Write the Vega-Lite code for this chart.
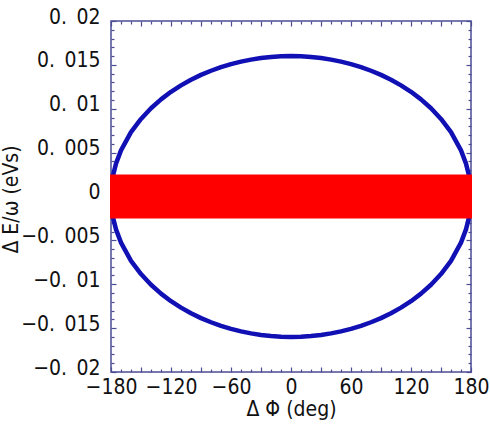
{
  "$schema": "https://vega.github.io/schema/vega-lite/v6.json",
  "width": 360,
  "height": 351,
  "autosize": "none",
  "padding": {"left": 111, "top": 21, "right": 19, "bottom": 52},
  "background": "white",
  "config": {
    "view": {"stroke": "#4c4c94", "strokeWidth": 1.5},
    "axis": {"grid": false, "domain": false, "tickColor": "#4c4c94", "tickWidth": 1.2, "labelFont": "DejaVu Sans Condensed, Noto Sans CJK JP", "titleFont": "DejaVu Sans Condensed, Noto Sans CJK JP", "labelColor": "#111", "titleColor": "#111", "labelFontSize": 21, "titleFontSize": 21, "titleFontWeight": "normal"}
  },
  "datasets": {
    "ellipse": [
      {"phi": -180, "dE": 0, "o": 0},
      {"phi": -178, "dE": 0.00238, "o": 1},
      {"phi": -175, "dE": 0.00375, "o": 2},
      {"phi": -170, "dE": 0.00526, "o": 3},
      {"phi": -160, "dE": 0.00733, "o": 4},
      {"phi": -150, "dE": 0.00884, "o": 5},
      {"phi": -140, "dE": 0.01006, "o": 6},
      {"phi": -130, "dE": 0.01107, "o": 7},
      {"phi": -120, "dE": 0.01193, "o": 8},
      {"phi": -110, "dE": 0.01266, "o": 9},
      {"phi": -100, "dE": 0.0133, "o": 10},
      {"phi": -90, "dE": 0.01386, "o": 11},
      {"phi": -80, "dE": 0.01433, "o": 12},
      {"phi": -70, "dE": 0.01474, "o": 13},
      {"phi": -60, "dE": 0.01508, "o": 14},
      {"phi": -50, "dE": 0.01537, "o": 15},
      {"phi": -40, "dE": 0.0156, "o": 16},
      {"phi": -30, "dE": 0.01578, "o": 17},
      {"phi": -20, "dE": 0.0159, "o": 18},
      {"phi": -10, "dE": 0.01598, "o": 19},
      {"phi": 0, "dE": 0.016, "o": 20},
      {"phi": 10, "dE": 0.01598, "o": 21},
      {"phi": 20, "dE": 0.0159, "o": 22},
      {"phi": 30, "dE": 0.01578, "o": 23},
      {"phi": 40, "dE": 0.0156, "o": 24},
      {"phi": 50, "dE": 0.01537, "o": 25},
      {"phi": 60, "dE": 0.01508, "o": 26},
      {"phi": 70, "dE": 0.01474, "o": 27},
      {"phi": 80, "dE": 0.01433, "o": 28},
      {"phi": 90, "dE": 0.01386, "o": 29},
      {"phi": 100, "dE": 0.0133, "o": 30},
      {"phi": 110, "dE": 0.01266, "o": 31},
      {"phi": 120, "dE": 0.01193, "o": 32},
      {"phi": 130, "dE": 0.01107, "o": 33},
      {"phi": 140, "dE": 0.01006, "o": 34},
      {"phi": 150, "dE": 0.00884, "o": 35},
      {"phi": 160, "dE": 0.00733, "o": 36},
      {"phi": 170, "dE": 0.00526, "o": 37},
      {"phi": 175, "dE": 0.00375, "o": 38},
      {"phi": 178, "dE": 0.00238, "o": 39},
      {"phi": 180, "dE": 0, "o": 40},
      {"phi": 178, "dE": -0.00238, "o": 41},
      {"phi": 175, "dE": -0.00375, "o": 42},
      {"phi": 170, "dE": -0.00526, "o": 43},
      {"phi": 160, "dE": -0.00733, "o": 44},
      {"phi": 150, "dE": -0.00884, "o": 45},
      {"phi": 140, "dE": -0.01006, "o": 46},
      {"phi": 130, "dE": -0.01107, "o": 47},
      {"phi": 120, "dE": -0.01193, "o": 48},
      {"phi": 110, "dE": -0.01266, "o": 49},
      {"phi": 100, "dE": -0.0133, "o": 50},
      {"phi": 90, "dE": -0.01386, "o": 51},
      {"phi": 80, "dE": -0.01433, "o": 52},
      {"phi": 70, "dE": -0.01474, "o": 53},
      {"phi": 60, "dE": -0.01508, "o": 54},
      {"phi": 50, "dE": -0.01537, "o": 55},
      {"phi": 40, "dE": -0.0156, "o": 56},
      {"phi": 30, "dE": -0.01578, "o": 57},
      {"phi": 20, "dE": -0.0159, "o": 58},
      {"phi": 10, "dE": -0.01598, "o": 59},
      {"phi": 0, "dE": -0.016, "o": 60},
      {"phi": -10, "dE": -0.01598, "o": 61},
      {"phi": -20, "dE": -0.0159, "o": 62},
      {"phi": -30, "dE": -0.01578, "o": 63},
      {"phi": -40, "dE": -0.0156, "o": 64},
      {"phi": -50, "dE": -0.01537, "o": 65},
      {"phi": -60, "dE": -0.01508, "o": 66},
      {"phi": -70, "dE": -0.01474, "o": 67},
      {"phi": -80, "dE": -0.01433, "o": 68},
      {"phi": -90, "dE": -0.01386, "o": 69},
      {"phi": -100, "dE": -0.0133, "o": 70},
      {"phi": -110, "dE": -0.01266, "o": 71},
      {"phi": -120, "dE": -0.01193, "o": 72},
      {"phi": -130, "dE": -0.01107, "o": 73},
      {"phi": -140, "dE": -0.01006, "o": 74},
      {"phi": -150, "dE": -0.00884, "o": 75},
      {"phi": -160, "dE": -0.00733, "o": 76},
      {"phi": -170, "dE": -0.00526, "o": 77},
      {"phi": -175, "dE": -0.00375, "o": 78},
      {"phi": -178, "dE": -0.00238, "o": 79},
      {"phi": -180, "dE": 0, "o": 80}
    ],
    "band": [
      {"phi0": -181, "phi1": 181, "e0": -0.0025, "e1": 0.0025}
    ]
  },
  "layer": [
    {
      "data": {"name": "ellipse"},
      "mark": {"type": "line", "color": "#1010b4", "strokeWidth": 4.5, "strokeCap": "round", "strokeJoin": "round", "clip": true},
      "encoding": {
        "x": {"field": "phi", "type": "quantitative", "scale": {"domain": [-180, 180], "nice": false, "zero": false},
          "axis": {"orient": "bottom", "values": [-180, -150, -120, -90, -60, -30, 0, 30, 60, 90, 120, 150, 180], "tickSize": -5, "labelPadding": 9, "labelExpr": "datum.value % 60 == 0 ? replace(format(datum.value, 'd'), '-', '\u2212') : ''", "labelFlush": false, "labelOverlap": false, "title": "\u0394 \u03a6 (deg)", "titleY": 43, "titleBaseline": "alphabetic"}},
        "y": {"field": "dE", "type": "quantitative", "scale": {"domain": [-0.02, 0.02], "nice": false, "zero": false},
          "axis": {"orient": "left", "values": [-0.02, -0.015, -0.01, -0.005, 0, 0.005, 0.01, 0.015, 0.02], "tickSize": -5, "labelPadding": 16, "labelOffset": -4, "labelExpr": "datum.value == 0 ? '0' : replace(replace(format(datum.value, '.3~f'), '.', '.\u2002'), '-', '\u2212')", "labelFlush": false, "labelOverlap": false, "title": "\u0394 E/\u03c9 (eVs)", "titleX": -90, "titleY": 178}},
        "order": {"field": "o", "type": "quantitative"}
      }
    },
    {
      "data": {"name": "band"},
      "mark": {"type": "rect", "color": "#ff0000"},
      "encoding": {
        "x": {"field": "phi0", "type": "quantitative", "scale": {"domain": [-180, 180], "nice": false, "zero": false},
          "axis": {"orient": "bottom", "values": [-170, -160, -140, -130, -110, -100, -80, -70, -50, -40, -20, -10, 10, 20, 40, 50, 70, 80, 100, 110, 130, 140, 160, 170], "tickSize": -3, "labels": false, "title": null}},
        "x2": {"field": "phi1"},
        "y": {"field": "e0", "type": "quantitative", "scale": {"domain": [-0.02, 0.02], "nice": false, "zero": false},
          "axis": {"orient": "left", "values": [-0.019, -0.018, -0.017, -0.016, -0.014, -0.013, -0.012, -0.011, -0.009, -0.008, -0.007, -0.006, -0.004, -0.003, -0.002, -0.001, 0.001, 0.002, 0.003, 0.004, 0.006, 0.007, 0.008, 0.009, 0.011, 0.012, 0.013, 0.014, 0.016, 0.017, 0.018, 0.019], "tickSize": -3, "labels": false, "title": null}},
        "y2": {"field": "e1"}
      }
    },
    {
      "data": {"name": "ellipse"},
      "mark": {"type": "point", "opacity": 0},
      "encoding": {
        "x": {"field": "phi", "type": "quantitative", "scale": {"domain": [-180, 180], "nice": false, "zero": false},
          "axis": {"orient": "top", "values": [-180, -150, -120, -90, -60, -30, 0, 30, 60, 90, 120, 150, 180], "tickSize": -5, "labels": false, "title": null}},
        "y": {"field": "dE", "type": "quantitative", "scale": {"domain": [-0.02, 0.02], "nice": false, "zero": false},
          "axis": {"orient": "right", "values": [-0.02, -0.015, -0.01, -0.005, 0, 0.005, 0.01, 0.015, 0.02], "tickSize": -5, "labels": false, "title": null}}
      }
    },
    {
      "data": {"name": "ellipse"},
      "mark": {"type": "point", "opacity": 0},
      "encoding": {
        "x": {"field": "phi", "type": "quantitative", "scale": {"domain": [-180, 180], "nice": false, "zero": false},
          "axis": {"orient": "top", "values": [-170, -160, -140, -130, -110, -100, -80, -70, -50, -40, -20, -10, 10, 20, 40, 50, 70, 80, 100, 110, 130, 140, 160, 170], "tickSize": -3, "labels": false, "title": null}},
        "y": {"field": "dE", "type": "quantitative", "scale": {"domain": [-0.02, 0.02], "nice": false, "zero": false},
          "axis": {"orient": "right", "values": [-0.019, -0.018, -0.017, -0.016, -0.014, -0.013, -0.012, -0.011, -0.009, -0.008, -0.007, -0.006, -0.004, -0.003, -0.002, -0.001, 0.001, 0.002, 0.003, 0.004, 0.006, 0.007, 0.008, 0.009, 0.011, 0.012, 0.013, 0.014, 0.016, 0.017, 0.018, 0.019], "tickSize": -3, "labels": false, "title": null}}
      }
    }
  ],
  "resolve": {"axis": {"x": "independent", "y": "independent"}}
}
